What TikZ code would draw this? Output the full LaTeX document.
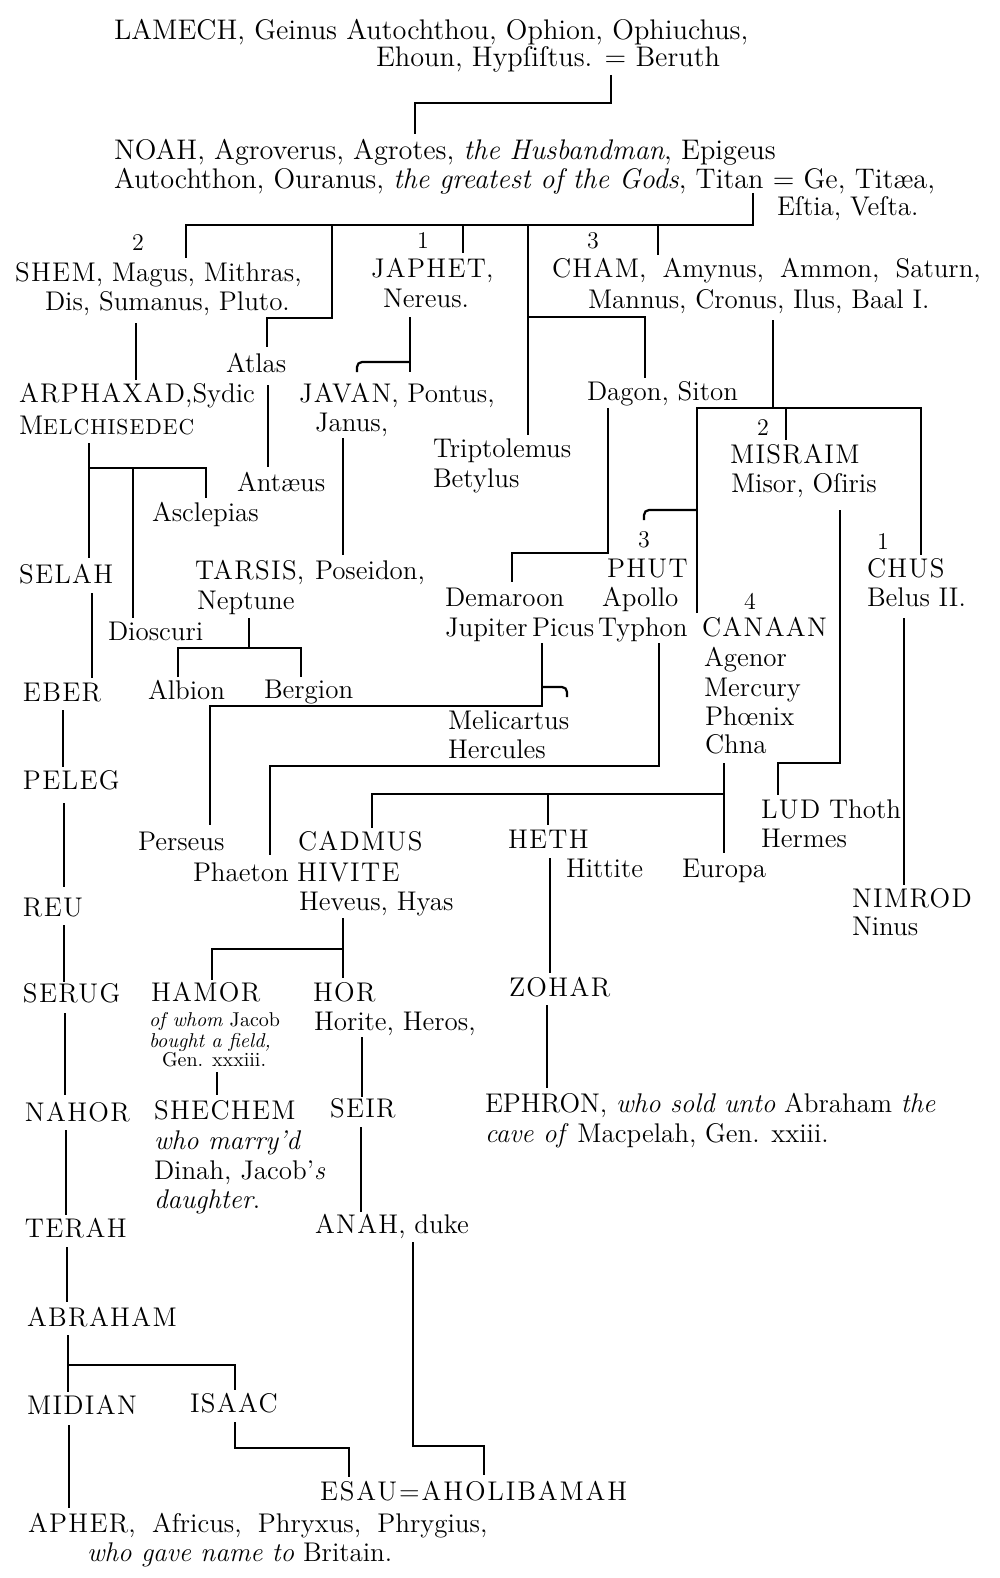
\documentclass[tikz,border=0pt]{standalone}
\usepackage{fontspec}
\setmainfont{Latin Modern Roman}
\newcommand\chartfont{\fontsize{13.5}{15}\selectfont}
\newcommand\smallchart{\fontsize{10}{11}\selectfont}
\newcommand\numfont{\fontsize{12}{13}\selectfont}
\newcommand\scfont{\fontsize{10.8}{12}\selectfont}
\newcommand\lsp[1]{{\addfontfeatures{LetterSpace=5}#1}}
\newcommand\wsp{\hspace{0.6em}}
\newcommand\topline[1]{\scalebox{1.05}{#1}}
\begin{document}
\begin{tikzpicture}[x=0.5pt,y=-0.5pt,
  tx/.style={anchor=base west, yshift=-4.5pt, inner sep=0pt, outer sep=0pt, font=\chartfont},
  tp/.style={anchor=base west, yshift=-4.7pt, inner sep=0pt, outer sep=0pt, font=\chartfont},
  sm/.style={anchor=base west, yshift=-3.5pt, inner sep=0pt, outer sep=0pt, font=\smallchart},
  num/.style={anchor=base, yshift=-4pt, inner sep=0pt, outer sep=0pt, font=\numfont},
  ln/.style={line width=1.1pt, line join=miter}]
\fill[white] (0,0) rectangle (1000,1578);
\useasboundingbox (0,0) rectangle (1000,1578);

% ---------- texts ----------
\node[tp] (lamechA) at (114,30) {\topline{LAMECH, Geinus Autochthou, Ophion, Ophiuchus,}};
\node[tp] (lamechB) at (376,57) {\topline{Ehoun, Hypſiſtus. = Beruth}};
\node[tp] (noahA) at (114,150) {\topline{NOAH, Agroverus, Agrotes, \textit{the Husbandman}, Epigeus}};
\node[tp] (noahB) at (114,179) {\topline{Autochthon, Ouranus, \textit{the greatest of the Gods}, Titan = Ge, Titæa,}};
\node[tx] (noahC) at (777,207) {Eſtia, Veſta.};
\node[num] (nshem) at (138,242) {2};
\node[tx] (shemA) at (15,272) {\lsp{SHEM}, Magus, Mithras,};
\node[tx] (shemB) at (45,301) {Dis, Sumanus, Pluto.};
\node[num] (njaphet) at (423,241) {1};
\node[tx] (japhetA) at (371,269) {\lsp{JAPHET},};
\node[tx] (japhetB) at (383,298) {Nereus.};
\node[num] (ncham) at (593,241) {3};
\node[tx] (chamA) at (552,269) {\lsp{CHAM},\wsp Amynus,\wsp Ammon,\wsp Saturn,};
\node[tx] (chamB) at (588,299) {Mannus, Cronus, Ilus, Baal I.};
\node[tx] (atlas) at (226,363) {Atlas};
\node[tx] (arphA) at (19,393) {\lsp{ARPHAXAD},Sydic};
\node[tx] (arphB) at (19,425) {\lsp{M{\scfont ELCHISEDEC}}};
\node[tx] (javanA) at (299,393) {\lsp{JAVAN}, Pontus,};
\node[tx] (javanB) at (315,422) {Janus,};
\node[tx] (dagon) at (587,391) {Dagon, Siton};
\node[tx] (tripA) at (433,448) {Triptolemus};
\node[tx] (tripB) at (433,478) {Betylus};
\node[num] (nmis) at (763,427) {2};
\node[tx] (misA) at (730,454) {\lsp{MISRAIM}};
\node[tx] (misB) at (731,483) {Misor, Oſiris};
\node[tx] (antaeus) at (237,482) {Antæus};
\node[tx] (asclepias) at (152,512) {Asclepias};
\node[num] (nphut) at (644,539) {3};
\node[num] (nchus) at (883,541) {1};
\node[tx] (selah) at (19,574) {\lsp{SELAH}};
\node[tx] (tarsis) at (195,570) {\lsp{TARSIS},};
\node[tx] (poseidon) at (315,570) {Poseidon,};
\node[tx] (neptune) at (197,600) {Neptune};
\node[tx] (phut) at (607,568) {\lsp{PHUT}};
\node[tx] (apollo) at (602,597) {Apollo};
\node[tx] (typhon) at (598,627) {Typhon};
\node[tx] (chusA) at (867,568) {\lsp{CHUS}};
\node[tx] (chusB) at (867,597) {Belus II.};
\node[tx] (demaroon) at (445,597) {Demaroon};
\node[tx] (jupiter) at (445,627) {Jupiter\,Picus};
\node[num] (ncanaan) at (750,601) {4};
\node[tx] (canaan) at (702,627) {\lsp{CANAAN}};
\node[tx] (dioscuri) at (108,631) {Dioscuri};
\node[tx] (agenor) at (704,657) {Agenor};
\node[tx] (mercury) at (704,687) {Mercury};
\node[tx] (phoenix) at (705,716) {Phœnix};
\node[tx] (chna) at (705,744) {Chna};
\node[tx] (eber) at (23,692) {\lsp{EBER}};
\node[tx] (albion) at (148,690) {Albion};
\node[tx] (bergion) at (264,689) {Bergion};
\node[tx] (melicartus) at (448,720) {Melicartus};
\node[tx] (hercules) at (448,749) {Hercules};
\node[tx] (peleg) at (23,780) {\lsp{PELEG}};
\node[tx] (lud) at (761,809) {\lsp{LUD} Thoth};
\node[tx] (hermes) at (761,838) {Hermes};
\node[tx] (perseus) at (138,841) {Perseus};
\node[tx] (cadmus) at (298,841) {\lsp{CADMUS}};
\node[tx] (heth) at (508,839) {\lsp{HETH}};
\node[tx] (phaeton) at (193,872) {Phaeton};
\node[tx] (hivite) at (297,872) {\lsp{HIVITE}};
\node[tx] (hittite) at (566,868) {Hittite};
\node[tx] (europa) at (682,868) {Europa};
\node[tx] (heveus) at (299,901) {Heveus, Hyas};
\node[tx] (nimrod) at (852,898) {\lsp{NIMROD}};
\node[tx] (ninus) at (852,926) {Ninus};
\node[tx] (reu) at (23,907) {\lsp{REU}};
\node[tx] (hamor) at (151,992) {\lsp{HAMOR}};
\node[tx] (hor) at (313,992) {\lsp{HOR}};
\node[tx] (zohar) at (509,987) {\lsp{ZOHAR}};
\node[tx] (serug) at (23,993) {\lsp{SERUG}};
\node[sm] (hamorA) at (149,1019) {\textit{of whom} Jacob};
\node[sm] (hamorB) at (149,1040) {\textit{bought a field,}};
\node[sm] (hamorC) at (162,1059) {Gen. xxxiii.};
\node[tx] (horite) at (314,1021) {Horite, Heros,};
\node[tx] (nahor) at (25,1112) {\lsp{NAHOR}};
\node[tx] (shechem) at (154,1110) {\lsp{SHECHEM}};
\node[tx] (seir) at (330,1108) {\lsp{SEIR}};
\node[tx] (ephronA) at (485,1103) {EPHRON, \textit{who sold unto} Abraham \textit{the}};
\node[tx] (ephronB) at (485,1133) {\textit{cave of} Macpelah, Gen. xxiii.};
\node[tx] (shechemA) at (154,1140) {\textit{who marry’d}};
\node[tx] (shechemB) at (154,1170) {Dinah, Jacob’\textit{s}};
\node[tx] (shechemC) at (154,1199) {\textit{daughter}.};
\node[tx] (terah) at (25,1228) {\lsp{TERAH}};
\node[tx] (anah) at (315,1224) {\lsp{ANAH}, duke};
\node[tx] (abraham) at (27,1317) {\lsp{ABRAHAM}};
\node[tx] (midian) at (27,1405) {\lsp{MIDIAN}};
\node[tx] (isaac) at (190,1403) {\lsp{ISAAC}};
\node[tx] (esau) at (320,1491) {{\addfontfeatures{LetterSpace=7}ESAU=AHOLIBAMAH}};
\node[tx] (apherA) at (28,1523) {\lsp{APHER},\wsp Africus,\wsp Phryxus,\wsp Phrygius,};
\node[tx] (apherB) at (87,1552) {\textit{who gave name to} Britain.};

% ---------- junction points ----------
\path (611,75) coordinate (a1) (611,103) coordinate (a2) (415,103) coordinate (a3) (415,134) coordinate (a4)
      (753,193) coordinate (b1) (753,225) coordinate (b2) (186,225) coordinate (b3) (186,258) coordinate (b4)
      (332,225) coordinate (c0) (332,318) coordinate (c1) (267,318) coordinate (c2) (267,347) coordinate (c3)
      (463,225) coordinate (d0) (463,253) coordinate (d1)
      (528,225) coordinate (e0) (528,435) coordinate (e1) (528,317) coordinate (e2) (645,317) coordinate (e3) (645,378) coordinate (e4)
      (658,225) coordinate (f0) (658,255) coordinate (f1)
      (136,323) coordinate (g0) (136,380) coordinate (g1)
      (410,317) coordinate (h0) (410,372) coordinate (h1) (410,362) coordinate (h2) (357,372) coordinate (h3)
      (268,385) coordinate (i0) (268,467) coordinate (i1)
      (343,438) coordinate (j0) (343,555) coordinate (j1)
      (89,443) coordinate (k0) (89,468) coordinate (k1) (206,468) coordinate (k2) (206,498) coordinate (k3)
      (89,558) coordinate (k5) (133,468) coordinate (k6) (133,618) coordinate (k7)
      (92,593) coordinate (m0) (92,678) coordinate (m1)
      (249,618) coordinate (n0) (249,648) coordinate (n1) (178,677) coordinate (n2) (178,648) coordinate (n3)
      (301,648) coordinate (n4) (301,677) coordinate (n5)
      (608,408) coordinate (o0) (608,553) coordinate (o1) (512,553) coordinate (o2) (512,582) coordinate (o3)
      (773,320) coordinate (p0) (773,408) coordinate (p1) (697,408) coordinate (p2) (921,408) coordinate (p3)
      (786,408) coordinate (p4) (786,440) coordinate (p5) (697,613) coordinate (p6) (921,555) coordinate (p7)
      (697,510) coordinate (q0) (644,520) coordinate (q1)
      (840,510) coordinate (r0) (840,763) coordinate (r1) (778,763) coordinate (r2) (778,795) coordinate (r3)
      (904,618) coordinate (t0) (904,885) coordinate (t1)
      (542,643) coordinate (u0) (542,706) coordinate (u1) (210,706) coordinate (u2) (210,825) coordinate (u3)
      (542,687) coordinate (u4) (567,697) coordinate (u5)
      (659,643) coordinate (v0) (659,766) coordinate (v1) (270,766) coordinate (v2) (270,855) coordinate (v3)
      (724,763) coordinate (w0) (724,794) coordinate (w1) (372,794) coordinate (w2) (372,828) coordinate (w3)
      (548,794) coordinate (w4) (548,825) coordinate (w5) (724,853) coordinate (w6)
      (550,858) coordinate (x0) (550,973) coordinate (x1)
      (547,1005) coordinate (y0) (547,1088) coordinate (y1)
      (343,918) coordinate (z0) (343,949) coordinate (z1) (212,949) coordinate (z2) (212,980) coordinate (z3) (343,978) coordinate (z4)
      (217,1072) coordinate (aa0) (217,1095) coordinate (aa1)
      (362,1037) coordinate (ab0) (362,1097) coordinate (ab1)
      (361,1127) coordinate (ac0) (361,1212) coordinate (ac1)
      (413,1242) coordinate (ad0) (413,1446) coordinate (ad1) (484,1446) coordinate (ad2) (484,1475) coordinate (ad3)
      (63,710) coordinate (ae0) (63,767) coordinate (ae1)
      (64,803) coordinate (af0) (64,887) coordinate (af1)
      (64,925) coordinate (ag0) (64,982) coordinate (ag1)
      (65,1013) coordinate (ah0) (65,1095) coordinate (ah1)
      (66,1130) coordinate (ai0) (66,1215) coordinate (ai1)
      (67,1247) coordinate (aj0) (67,1302) coordinate (aj1)
      (68,1335) coordinate (ak0) (68,1365) coordinate (ak1) (235,1365) coordinate (ak2) (235,1390) coordinate (ak3) (68,1392) coordinate (ak4)
      (235,1422) coordinate (al0) (235,1448) coordinate (al1) (349,1448) coordinate (al2) (349,1477) coordinate (al3)
      (69,1425) coordinate (am0) (69,1508) coordinate (am1);

% ---------- connectors ----------
\draw[ln] (a1) -- (a2) -- (a3) -- (a4);
\draw[ln] (b1) -- (b2) -- (b3) -- (b4);
\draw[ln] (c0) -- (c1) -- (c2) -- (c3);
\draw[ln] (d0) -- (d1);
\draw[ln] (e0) -- (e1);
\draw[ln] (e2) -- (e3) -- (e4);
\draw[ln] (f0) -- (f1);
\draw[ln] (g0) -- (g1);
\draw[ln] (h0) -- (h1);
\draw[ln, rounded corners=2.5pt] (h2) -| (h3);
\draw[ln] (i0) -- (i1);
\draw[ln] (j0) -- (j1);
\draw[ln] (k0) -- (k1) -- (k2) -- (k3);
\draw[ln] (k1) -- (k5);
\draw[ln] (k6) -- (k7);
\draw[ln] (m0) -- (m1);
\draw[ln] (n0) -- (n1);
\draw[ln] (n2) -- (n3) -- (n4) -- (n5);
\draw[ln] (o0) -- (o1) -- (o2) -- (o3);
\draw[ln] (p0) -- (p1);
\draw[ln] (p6) -- (p2) -- (p3) -- (p7);
\draw[ln] (p4) -- (p5);
\draw[ln, rounded corners=2.5pt] (q0) -| (q1);
\draw[ln] (r0) -- (r1) -- (r2) -- (r3);
\draw[ln] (t0) -- (t1);
\draw[ln] (u0) -- (u1) -- (u2) -- (u3);
\draw[ln, rounded corners=2.5pt] (u4) -| (u5);
\draw[ln] (v0) -- (v1) -- (v2) -- (v3);
\draw[ln] (w0) -- (w6);
\draw[ln] (w1) -- (w2) -- (w3);
\draw[ln] (w4) -- (w5);
\draw[ln] (x0) -- (x1);
\draw[ln] (y0) -- (y1);
\draw[ln] (z0) -- (z4);
\draw[ln] (z1) -- (z2) -- (z3);
\draw[ln] (aa0) -- (aa1);
\draw[ln] (ab0) -- (ab1);
\draw[ln] (ac0) -- (ac1);
\draw[ln] (ad0) -- (ad1) -- (ad2) -- (ad3);
\draw[ln] (ae0) -- (ae1);
\draw[ln] (af0) -- (af1);
\draw[ln] (ag0) -- (ag1);
\draw[ln] (ah0) -- (ah1);
\draw[ln] (ai0) -- (ai1);
\draw[ln] (aj0) -- (aj1);
\draw[ln] (ak0) -- (ak1) -- (ak2) -- (ak3);
\draw[ln] (ak1) -- (ak4);
\draw[ln] (al0) -- (al1) -- (al2) -- (al3);
\draw[ln] (am0) -- (am1);
\end{tikzpicture}
\end{document}
